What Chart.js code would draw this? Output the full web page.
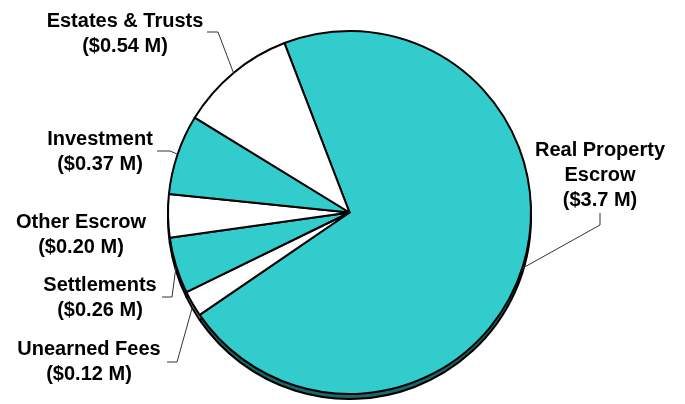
<!DOCTYPE html>
<html>
<head>
<meta charset="utf-8">
<script src="https://cdn.jsdelivr.net/npm/chart.js@4.4.1/dist/chart.umd.min.js"></script>
<style>
	html, body { margin: 0; padding: 0; background: #ffffff; }
	#chart_wrap { width: 685px; height: 404px; position: relative; }
</style>
</head>
<body>
<div id="chart_wrap"><canvas id="fund_pie"></canvas></div>
<script>
// Fund balances by category, in $ millions
var categories = ['Real Property Escrow', 'Unearned Fees', 'Settlements', 'Other Escrow', 'Investment', 'Estates & Trusts'];
var amounts = [3.7, 0.12, 0.26, 0.20, 0.37, 0.54];
var nameLines = [['Real Property', 'Escrow'], ['Unearned Fees'], ['Settlements'], ['Other Escrow'], ['Investment'], ['Estates & Trusts']];

var CYAN = '#33cccc';
var sliceColors = [CYAN, '#ffffff', CYAN, '#ffffff', CYAN, '#ffffff'];
var sideColors = ['#1b6868', '#9a9a9a', '#1b6868', '#9a9a9a', '#1b6868', '#9a9a9a'];
var DEPTH = 5;

// label text centre (x, first line y) and leader elbow points
var labelLayout = [
	{ x: 600, y: 150, leader: [[600, 213], [600, 225]] },
	{ x: 89, y: 349, leader: [[167, 362], [177, 362]] },
	{ x: 100, y: 285, leader: [[162, 297], [172, 297]] },
	{ x: 81, y: 222, leader: null },
	{ x: 100, y: 139, leader: [[157, 151], [170, 151]] },
	{ x: 125, y: 21, leader: [[207, 32], [218, 32]] }
];

function formatAmount(v) {
	return '($' + (v >= 1 ? v.toFixed(1) : v.toFixed(2)) + ' M)';
}

/* draws the pie's side wall a few pixels below the top face */
var pieDepth = {
	id: 'pieDepth',
	beforeDatasetsDraw: function (chart) {
		var ctx = chart.ctx;
		var arcs = chart.getDatasetMeta(0).data;
		ctx.save();
		ctx.lineWidth = 2;
		ctx.strokeStyle = '#000000';
		ctx.lineJoin = 'round';
		arcs.forEach(function (arc, i) {
			ctx.beginPath();
			ctx.moveTo(arc.x, arc.y + DEPTH);
			ctx.arc(arc.x, arc.y + DEPTH, arc.outerRadius, arc.startAngle, arc.endAngle);
			ctx.closePath();
			ctx.fillStyle = sideColors[i];
			ctx.fill();
			ctx.stroke();
		});
		ctx.restore();
	}
};

/* category names, amounts and leader lines */
var pieLabels = {
	id: 'pieLabels',
	afterDatasetsDraw: function (chart) {
		var ctx = chart.ctx;
		var arcs = chart.getDatasetMeta(0).data;
		ctx.save();
		ctx.font = 'bold 20px "Liberation Sans", Arial, sans-serif';
		ctx.fillStyle = '#000000';
		ctx.textAlign = 'center';
		ctx.textBaseline = 'middle';
		arcs.forEach(function (arc, i) {
			var lay = labelLayout[i];
			var lines = nameLines[i].concat([formatAmount(amounts[i])]);
			lines.forEach(function (txt, k) {
				ctx.fillText(txt, lay.x, lay.y + k * 25);
			});
			if (!lay.leader) return;
			var mid = (arc.startAngle + arc.endAngle) / 2;
			var ex = arc.x + Math.cos(mid) * arc.outerRadius;
			var ey = arc.y + Math.sin(mid) * arc.outerRadius;
			if (Math.sin(mid) > 0) ey += DEPTH * Math.sin(mid);
			ctx.beginPath();
			ctx.strokeStyle = '#333333';
			ctx.lineWidth = 1;
			ctx.moveTo(lay.leader[0][0], lay.leader[0][1]);
			for (var p = 1; p < lay.leader.length; p++) {
				ctx.lineTo(lay.leader[p][0], lay.leader[p][1]);
			}
			ctx.lineTo(ex, ey);
			ctx.stroke();
		});
		ctx.restore();
	}
};

const fund_pie = document.getElementById('fund_pie');

var FundPieChart = new Chart(fund_pie, {
	type: 'pie',
	data: {
		labels: categories,
		datasets: [{
			data: amounts,
			backgroundColor: sliceColors,
			borderColor: '#000000',
			borderWidth: 2,
			borderJoinStyle: 'round'
		}]
	},
	options: {
		responsive: true,
		maintainAspectRatio: false,
		animation: false,
		rotation: -21,
		layout: {
			padding: { left: 167, right: 153, top: 30, bottom: 9 }
		},
		plugins: {
			legend: { display: false },
			tooltip: { enabled: false }
		}
	},
	plugins: [pieDepth, pieLabels]
});
</script>
</body>
</html>
